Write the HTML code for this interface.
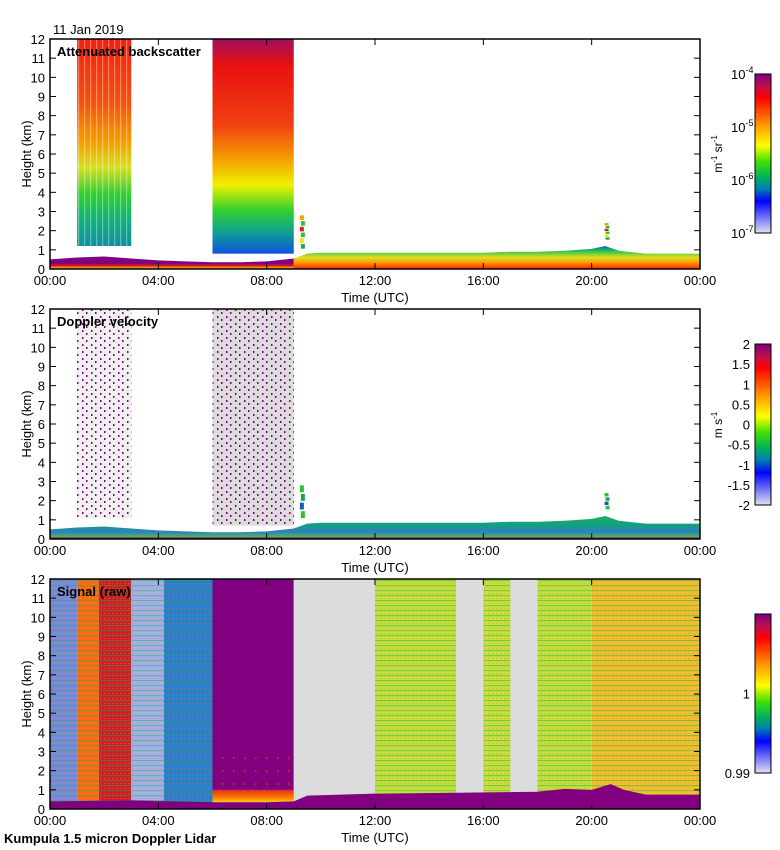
<!DOCTYPE html>
<html><head><meta charset="utf-8">
<style>
body{margin:0;background:#fff;}
svg{display:block;font-family:"Liberation Sans",sans-serif;}
text{fill:#000;}
</style></head>
<body>
<svg id="chart" width="780" height="850" xmlns="http://www.w3.org/2000/svg">
<defs>
 <linearGradient id="cmap" x1="0" y1="0" x2="0" y2="1">
  <stop offset="0" stop-color="#800080"/><stop offset="0.08" stop-color="#c0104a"/>
  <stop offset="0.15" stop-color="#ff0000"/><stop offset="0.33" stop-color="#ffa000"/>
  <stop offset="0.45" stop-color="#ffff00"/><stop offset="0.55" stop-color="#40e000"/>
  <stop offset="0.65" stop-color="#00b060"/><stop offset="0.72" stop-color="#0080b0"/>
  <stop offset="0.8" stop-color="#0000ff"/><stop offset="1" stop-color="#e0e0f0"/>
 </linearGradient>
 <linearGradient id="blockA" x1="0" y1="0" x2="0" y2="1">
  <stop offset="0" stop-color="#f02010"/><stop offset="0.3" stop-color="#f25010"/>
  <stop offset="0.5" stop-color="#f5a000"/><stop offset="0.62" stop-color="#d8e020"/>
  <stop offset="0.75" stop-color="#30d030"/><stop offset="0.88" stop-color="#10b080"/>
  <stop offset="1" stop-color="#1090a0"/>
 </linearGradient>
 <linearGradient id="blockB" x1="0" y1="0" x2="0" y2="1">
  <stop offset="0" stop-color="#a01060"/><stop offset="0.12" stop-color="#e81010"/>
  <stop offset="0.4" stop-color="#f04010"/><stop offset="0.56" stop-color="#f5a000"/>
  <stop offset="0.68" stop-color="#f0f000"/><stop offset="0.8" stop-color="#30d030"/>
  <stop offset="0.9" stop-color="#10a090"/><stop offset="1" stop-color="#1050e0"/>
 </linearGradient>
 <linearGradient id="blLayer" x1="0" y1="0" x2="0" y2="1">
  <stop offset="0" stop-color="#0a60c0"/><stop offset="0.2" stop-color="#20c050"/>
  <stop offset="0.5" stop-color="#e0e020"/><stop offset="0.75" stop-color="#ff9000"/>
  <stop offset="1" stop-color="#ff2000"/>
 </linearGradient>
 <linearGradient id="velLayer" x1="0" y1="0" x2="0" y2="1">
  <stop offset="0" stop-color="#20b060"/><stop offset="0.4" stop-color="#10a080"/>
  <stop offset="0.7" stop-color="#3080c0"/><stop offset="1" stop-color="#60d020"/>
 </linearGradient>
 <linearGradient id="purpleBot" x1="0" y1="0" x2="0" y2="1">
  <stop offset="0" stop-color="#800080"/><stop offset="0.55" stop-color="#800080"/>
  <stop offset="0.75" stop-color="#e02020"/><stop offset="0.9" stop-color="#ffa000"/>
  <stop offset="1" stop-color="#40c040"/>
 </linearGradient>
 <linearGradient id="sigPurpleBot" x1="0" y1="0" x2="0" y2="1">
  <stop offset="0" stop-color="#e03020"/><stop offset="0.6" stop-color="#ff8000"/>
  <stop offset="1" stop-color="#f0e020"/>
 </linearGradient>
 <pattern id="speck" width="9" height="7" patternUnits="userSpaceOnUse">
  <rect x="1" y="1" width="1.5" height="2" fill="#800080"/><rect x="5" y="4" width="1.5" height="2" fill="#800080"/>
 </pattern>
 <pattern id="redspeck" width="11" height="13" patternUnits="userSpaceOnUse">
  <rect x="2" y="3" width="1.5" height="2" fill="#e02020"/>
 </pattern>
 <pattern id="hstripe" width="4" height="5" patternUnits="userSpaceOnUse">
  <rect x="0" y="0" width="4" height="1.2" fill="#20b040" opacity="0.45"/>
  <rect x="0" y="3" width="2" height="1" fill="#ff8000" opacity="0.35"/>
 </pattern>
 <pattern id="vstripe" width="6" height="4" patternUnits="userSpaceOnUse">
  <rect x="0" y="0" width="1.2" height="4" fill="#ffffff" opacity="0.35"/>
 </pattern>
</defs>
<g id="layer"></g>
</svg>
<script>
// ---- data ----
var hourTicks = [0, 4, 8, 12, 16, 20, 24];
var hourLabels = ["00:00", "04:00", "08:00", "12:00", "16:00", "20:00", "00:00"];
var kmTicks = [0,1,2,3,4,5,6,7,8,9,10,11,12];
var blHours = [0,1,2,3,4,5,6,7,8,9,9.5,10,11,12,13,14,15,16,17,18,19,20,20.5,21,22,23,24];
var blKm = [0.5,0.6,0.65,0.55,0.45,0.4,0.35,0.35,0.4,0.55,0.8,0.85,0.85,0.85,0.85,0.85,0.85,0.85,0.9,0.9,0.95,1.05,1.2,0.95,0.8,0.8,0.8];
var bsStart = [1.0, 6.0];
var bsEnd = [3.0, 9.0];
var bsBase = [1.2, 0.8];
var bsTop = [12, 12];
var featHour = [9.3, 20.55];
var featBase = [1.0, 1.5];
var featTop = [2.8, 2.4];
var sigStart = [0, 1.0, 1.8, 3.0, 4.2, 6.0, 9.0, 12.0, 15.0, 16.0, 17.0, 18.0, 20.0];
var sigEnd   = [1.0, 1.8, 3.0, 4.2, 6.0, 9.0, 12.0, 15.0, 16.0, 17.0, 18.0, 20.0, 24.0];
var sigColor = ["#7a88e8","#ff6a18","#d01c28","#a4b0f0","#2c7ad8","#800080","#dcdcdc","#c4e040","#dcdcdc","#c8e040","#dcdcdc","#c4e040","#f2c030"];
var sigBotHours = [0,3,6,8,9,9.5,12,15,18,19,20,20.7,21.2,22,24];
var sigBotKm = [0.4,0.45,0.35,0.35,0.4,0.7,0.8,0.85,0.9,1.05,1.0,1.3,1.0,0.75,0.75];

var NS = "http://www.w3.org/2000/svg";
var root = document.getElementById("layer");
var X0 = 50, X1 = 700;
var panelTops = [39, 309, 579];
var PH = 230;
function xs(h){ return X0 + h * (X1 - X0) / 24; }
function ys(top, km){ return top + PH - km * PH / 12; }
function el(tag, attrs, parent, txt){
  var e = document.createElementNS(NS, tag);
  for (var k in attrs) e.setAttribute(k, attrs[k]);
  if (txt !== undefined) e.textContent = txt;
  (parent || root).appendChild(e);
  return e;
}
function layerPath(top, hours, kms){
  var d = "M" + xs(hours[0]) + "," + ys(top, 0);
  for (var i = 0; i < hours.length; i++) d += " L" + xs(hours[i]) + "," + ys(top, kms[i]);
  d += " L" + xs(hours[hours.length-1]) + "," + ys(top, 0) + " Z";
  return d;
}
function blAt(h){
  for (var i = 0; i < blHours.length - 1; i++)
    if (h >= blHours[i] && h <= blHours[i+1])
      return blKm[i] + (blKm[i+1]-blKm[i]) * (h-blHours[i])/(blHours[i+1]-blHours[i]);
  return blKm[blKm.length-1];
}

function axes(top, title, idx){
  var g = el("g", {});
  
  
  el("rect", {x:X0, y:top, width:X1-X0, height:PH, fill:"none", stroke:"#000", "stroke-width":1.5}, g);
  for (var i = 0; i < kmTicks.length; i++){
    var y = ys(top, kmTicks[i]);
    el("line", {x1:X0, x2:X0+6, y1:y, y2:y, stroke:"#000"}, g);
    el("line", {x1:X1-6, x2:X1, y1:y, y2:y, stroke:"#000"}, g);
    var t = el("text", {x:45, y:y+5, "text-anchor":"end", "font-size":13}, g, String(kmTicks[i]));
    
    
  }
  for (var j = 0; j < hourTicks.length; j++){
    var x = xs(hourTicks[j]);
    el("line", {x1:x, x2:x, y1:top, y2:top+6, stroke:"#000"}, g);
    el("line", {x1:x, x2:x, y1:top+PH-6, y2:top+PH, stroke:"#000"}, g);
    var tl = el("text", {x:x, y:top+PH+16, "text-anchor":"middle", "font-size":13}, g, hourLabels[j]);
    
    
  }
  var xt = el("text", {x:375, y:top+PH+33, "text-anchor":"middle", "font-size":13}, g, "Time (UTC)");
  
  
  var yt = el("text", {x:0, y:0, "text-anchor":"middle", "font-size":13, transform:"translate(31,"+(top+PH/2)+") rotate(-90)"}, g, "Height (km)");
  
  
  var pt = el("text", {x:57, y:top+17, "font-size":13, "font-weight":"bold"}, g, title);
  
  
}

function features(T, colors){
  for (var f = 0; f < featHour.length; f++){
    var x = xs(featHour[f]) - 2;
    var yT = ys(T, featTop[f]), yB = ys(T, featBase[f]);
    var n = colors.length, hh = (yB - yT) / n;
    for (var c = 0; c < n; c++){
      var fr = el("rect", {x:x + (c%2), y:yT + c*hh, width:4, height:hh*0.8, fill:colors[c]});
      
      
    }
  }
}

// ---------- Panel 1: backscatter ----------
var T = panelTops[0];
for (var i = 0; i < bsStart.length; i++){
  var r = el("rect", {x:xs(bsStart[i]), y:ys(T,bsTop[i]), width:xs(bsEnd[i])-xs(bsStart[i]), height:ys(T,bsBase[i])-ys(T,bsTop[i]), fill: i==0 ? "url(#blockA)" : "url(#blockB)"});
  
  
  if (i == 0) el("rect", {x:xs(bsStart[i]), y:ys(T,bsTop[i]), width:xs(bsEnd[i])-xs(bsStart[i]), height:ys(T,bsBase[i])-ys(T,bsTop[i]), fill:"url(#vstripe)"});
}
(function(){
  var hA = blHours.filter(function(h){return h<=9;});
  var kA = hA.map(blAt);
  var p = el("path", {d:layerPath(T, hA, kA), fill:"url(#purpleBot)"});
  
  
  var hB = blHours.filter(function(h){return h>=9;});
  var kB = hB.map(blAt);
  var p2 = el("path", {d:layerPath(T, hB, kB), fill:"url(#blLayer)"});
  
  
})();
features(T, ["#f0a000","#30c030","#e02020","#30c030","#f0e000","#20a060"]);
axes(T, "Attenuated backscatter", 1);

// ---------- Panel 2: Doppler velocity ----------
T = panelTops[1];
for (var i = 0; i < bsStart.length; i++){
  var x = xs(bsStart[i]), w = xs(bsEnd[i]) - x;
  var yTop = ys(T, bsTop[i]), hgt = ys(T, bsBase[i]-0.1) - yTop;
  var bg = el("rect", {x:x, y:yTop, width:w, height:hgt, fill: i==0 ? "#f0f0f0" : "#dcdcdc"});
  
  
  el("rect", {x:x, y:yTop, width:w, height:hgt, fill:"url(#speck)"});
}
(function(){
  var p = el("path", {d:layerPath(T, blHours, blHours.map(blAt)), fill:"url(#velLayer)"});
  
  
  el("rect", {x:X0, y:ys(T,0.08), width:X1-X0, height:ys(T,0)-ys(T,0.08), fill:"#800080"});
})();
features(T, ["#30c030","#20a060","#1060c0","#30c030"]);
axes(T, "Doppler velocity", 2);

// ---------- Panel 3: raw signal ----------
T = panelTops[2];
for (var i = 0; i < sigStart.length; i++){
  var x = xs(sigStart[i]), w = xs(sigEnd[i]) - x;
  var c = el("rect", {x:x, y:T, width:w, height:PH, fill:sigColor[i]});
  
  
  if (sigColor[i] != "#dcdcdc" && sigColor[i] != "#800080")
    el("rect", {x:x, y:T, width:w, height:PH, fill:"url(#hstripe)"});
  if (sigColor[i] == "#800080"){
    el("rect", {x:x, y:ys(T,3), width:w, height:ys(T,1.2)-ys(T,3), fill:"url(#redspeck)"});
    el("rect", {x:x, y:ys(T,1.0), width:w, height:ys(T,0.3)-ys(T,1.0), fill:"url(#sigPurpleBot)"});
  }
}
(function(){
  var p = el("path", {d:layerPath(T, sigBotHours, sigBotKm), fill:"#800080"});
  
  
})();
axes(T, "Signal (raw)", 3);

// ---------- colorbars ----------
var cbTops = [74, 344, 614], cbBots = [233, 505, 773];
for (var k = 0; k < 3; k++){
  var cb = el("rect", {x:755, y:cbTops[k], width:16, height:cbBots[k]-cbTops[k], fill:"url(#cmap)", stroke:"#000", "stroke-width":1});
  
  
}
var cb1Exp = ["-4","-5","-6","-7"];
for (var i = 0; i < cb1Exp.length; i++){
  var y = cbTops[0] + i*(cbBots[0]-cbTops[0])/3;
  var t = el("text", {x:731, y:y+5, "font-size":13}, null, "10");
  el("tspan", {dy:-6, "font-size":9}, t, cb1Exp[i]);
  
  
}
var u1 = el("text", {x:0, y:0, "text-anchor":"middle", "font-size":12, transform:"translate(722,154) rotate(-90)"}, null, "");
el("tspan", {}, u1, "m");
el("tspan", {dy:-5, "font-size":8}, u1, "-1");
el("tspan", {dy:5}, u1, " sr");
el("tspan", {dy:-5, "font-size":8}, u1, "-1");


var cb2Labels = ["2","1.5","1","0.5","0","-0.5","-1","-1.5","-2"];
for (var i = 0; i < cb2Labels.length; i++){
  var y = cbTops[1] + i*(cbBots[1]-cbTops[1])/8;
  var t = el("text", {x:750, y:y+5, "text-anchor":"end", "font-size":13}, null, cb2Labels[i]);
  
  
}
var u2 = el("text", {x:0, y:0, "text-anchor":"middle", "font-size":12, transform:"translate(722,425) rotate(-90)"}, null, "");
el("tspan", {}, u2, "m s");
el("tspan", {dy:-5, "font-size":8}, u2, "-1");


var cb3Labels = ["1","0.99"], cb3Pos = [0.5, 1];
for (var i = 0; i < cb3Labels.length; i++){
  var y = cbTops[2] + cb3Pos[i]*(cbBots[2]-cbTops[2]);
  var t = el("text", {x:750, y:y+5, "text-anchor":"end", "font-size":13}, null, cb3Labels[i]);
  
  
}
var dt = el("text", {x:53, y:34, "font-size":13}, null, "11 Jan 2019");


var ft = el("text", {x:4, y:843, "font-size":13, "font-weight":"bold"}, null, "Kumpula 1.5 micron Doppler Lidar");


</script>
</body></html>
